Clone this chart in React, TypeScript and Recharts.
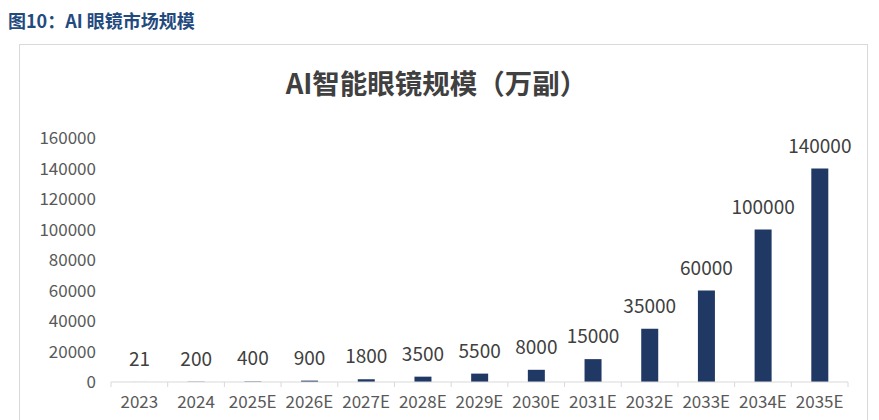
import React from 'react';
import { BarChart, Bar, XAxis, YAxis, LabelList } from 'recharts';

const categories = ['2023', '2024', '2025E', '2026E', '2027E', '2028E', '2029E', '2030E', '2031E', '2032E', '2033E', '2034E', '2035E'];
const volumes = [21, 200, 400, 900, 1800, 3500, 5500, 8000, 15000, 35000, 60000, 100000, 140000];
const yTicks = [0, 20000, 40000, 60000, 80000, 100000, 120000, 140000, 160000];

const data = categories.map((year, i) => ({ year, value: volumes[i] }));

const FONT = '"Noto Sans CJK SC", "Noto Sans", sans-serif';
const BAND = (848 - 111) / categories.length;

// tick marks sit between categories, like the Excel original
const XTick = (props: any) => {
  const { x, y, payload, index } = props;
  const left = x - BAND / 2;
  const right = x + BAND / 2;
  return (
    <g>
      <line x1={left} y1={y} x2={left} y2={y + 5} stroke="#D9D9D9" />
      {index === categories.length - 1 && <line x1={right} y1={y} x2={right} y2={y + 5} stroke="#D9D9D9" />}
      <text x={x} y={y + 26} textAnchor="middle" fill="#595959" fontSize={17} fontFamily={FONT}>
        {payload.value}
      </text>
    </g>
  );
};

const App: React.FC = () => {
  return (
    <div style={{ position: 'absolute', left: 0, top: 0, width: 879, height: 420, overflow: 'hidden', background: '#fff', fontFamily: FONT }}>
      <div style={{ position: 'absolute', left: 8, top: 8, fontSize: 18, fontWeight: 'bold', color: '#234A7E', lineHeight: '24px' }}>
        图10：AI 眼镜市场规模
      </div>
      <div style={{ position: 'absolute', left: 19, top: 44, width: 849, height: 420, border: '1px solid #D9D9D9', boxSizing: 'border-box' }} />
      <div style={{ position: 'absolute', left: 0, top: 64, width: 873, textAlign: 'center', fontSize: 27.5, fontWeight: 'bold', color: '#404040', lineHeight: '36px' }}>
        AI智能眼镜规模（万副）
      </div>
      <div style={{ position: 'absolute', left: 0, top: 0 }}>
        <BarChart width={879} height={420} data={data} margin={{ top: 138, right: 31, left: 0, bottom: 8 }}>
          <XAxis
            dataKey="year"
            height={30}
            axisLine={{ stroke: '#D9D9D9' }}
            tickLine={false}
            tickSize={0}
            tickMargin={0}
            interval={0}
            tick={<XTick />}
          />
          <YAxis
            width={111}
            domain={[0, 160000]}
            ticks={yTicks}
            axisLine={false}
            tickLine={false}
            tickSize={0}
            tickMargin={15}
            tick={{ fill: '#595959', fontSize: 17, fontFamily: FONT }}
          />
          <Bar dataKey="value" fill="#203864" barSize={17} isAnimationActive={false}>
            <LabelList dataKey="value" position="top" offset={16} fill="#404040" fontSize={19} fontFamily={FONT} />
          </Bar>
        </BarChart>
      </div>
    </div>
  );
};

export default App;
